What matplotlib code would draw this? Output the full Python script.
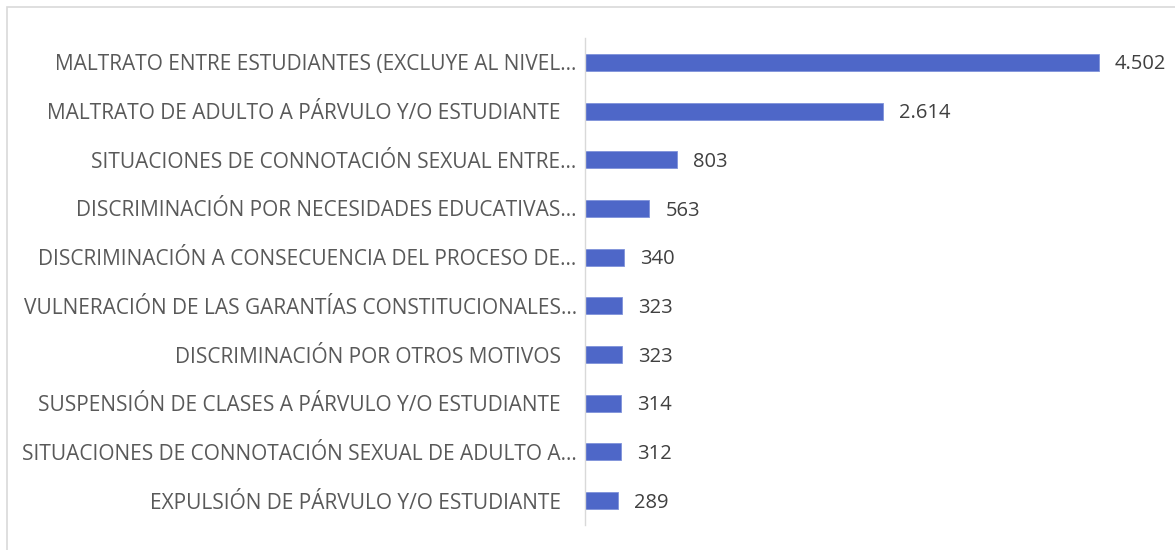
import matplotlib
matplotlib.use("Agg")
import matplotlib.pyplot as plt
from matplotlib.patches import Rectangle

categories = [
    "MALTRATO ENTRE ESTUDIANTES (EXCLUYE AL NIVEL...",
    "MALTRATO DE ADULTO A PÁRVULO Y/O ESTUDIANTE   ",
    "SITUACIONES DE CONNOTACIÓN SEXUAL ENTRE...",
    "DISCRIMINACIÓN POR NECESIDADES EDUCATIVAS...",
    "DISCRIMINACIÓN A CONSECUENCIA DEL PROCESO DE...",
    "VULNERACIÓN DE LAS GARANTÍAS CONSTITUCIONALES...",
    "DISCRIMINACIÓN POR OTROS MOTIVOS   ",
    "SUSPENSIÓN DE CLASES A PÁRVULO Y/O ESTUDIANTE   ",
    "SITUACIONES DE CONNOTACIÓN SEXUAL DE ADULTO A...",
    "EXPULSIÓN DE PÁRVULO Y/O ESTUDIANTE   ",
]
values = [4502, 2614, 803, 563, 340, 323, 323, 314, 312, 289]
value_labels = ["4.502", "2.614", "803", "563", "340", "323", "323", "314", "312", "289"]

plt.rcParams['font.family'] = ['Open Sans', 'DejaVu Sans']

W, H = 1175, 550
fig = plt.figure(figsize=(W / 100, H / 100), dpi=100)
ax = fig.add_axes([585 / W, 1 - 525 / H, (1160 - 585) / W, (525 - 38) / H])

y = list(range(len(categories)))
ax.barh(y, values, height=0.35, color="#4E67C8", edgecolor="#7F92DA", linewidth=0.6)
ax.set_ylim(len(categories) - 0.5, -0.5)
ax.set_xlim(0, 575 / (514 / 4502))

ax.set_yticks(y)
ax.set_yticklabels(categories, fontsize=15, color="#595959")
ax.tick_params(axis="y", length=0, pad=6)
ax.set_xticks([])
for s in ["top", "right", "bottom"]:
    ax.spines[s].set_visible(False)
ax.spines["left"].set_color("#D9D9D9")
ax.spines["left"].set_linewidth(1.0)

for yi, v, lab in zip(y, values, value_labels):
    ax.annotate(lab, (v, yi), xytext=(11.5, -1.5), textcoords="offset points",
                va="center", ha="left", fontsize=14.5, color="#404040")

fig.patches.append(Rectangle((7 / W, -0.05), 1.1, 1 - 7 / H + 0.05,
                             transform=fig.transFigure, fill=False,
                             edgecolor="#D9D9D9", linewidth=1.2))

fig.savefig("out.png", dpi=100)
